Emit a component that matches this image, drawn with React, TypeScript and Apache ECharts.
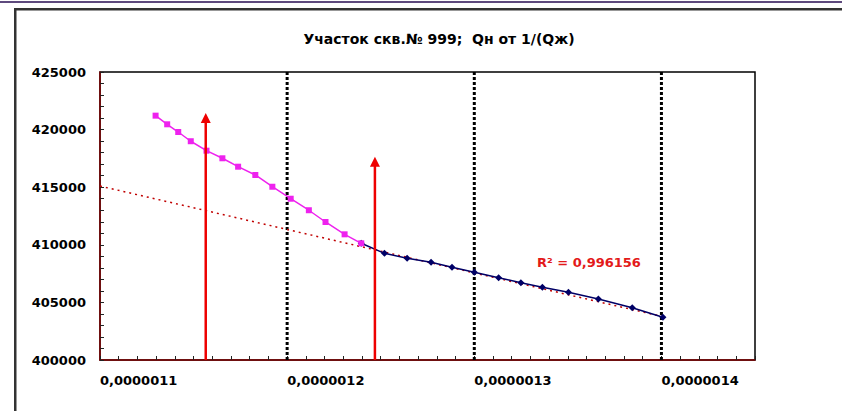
import React, { useEffect, useRef } from "react";
import * as echarts from "echarts";

const TITLE = "Участок скв.№ 999;  Qн от 1/(Qж)";
const R2_LABEL = "R² = 0,996156";

const magentaX = [1.1297e-6, 1.1359e-6, 1.1418e-6, 1.1485e-6, 1.1569e-6, 1.1654e-6, 1.1738e-6, 1.1830e-6, 1.1921e-6, 1.2019e-6, 1.2116e-6, 1.2205e-6, 1.2307e-6, 1.2396e-6];
const magentaY = [421210, 420460, 419790, 418990, 418170, 417510, 416780, 416060, 415040, 414000, 413000, 411980, 410910, 410130];

const navyX = [1.2396e-6, 1.2520e-6, 1.2641e-6, 1.2769e-6, 1.2881e-6, 1.3000e-6, 1.3130e-6, 1.3249e-6, 1.3364e-6, 1.3503e-6, 1.3663e-6, 1.3844e-6, 1.4008e-6];
const navyY = [410130, 409260, 408830, 408480, 408050, 407610, 407140, 406710, 406310, 405880, 405300, 404540, 403710];

const trendX = [1.1e-6, 1.4008e-6];
const trendY = [415100, 403760];

const arrowX = [1.1565e-6, 1.2469e-6];
const arrowTop = [421000, 417200];
const arrowBase = 400000;

const gridLinesX = [1.2e-6, 1.3e-6, 1.4e-6];

const xMin = 1.1e-6;
const xMax = 1.45e-6;
const xInterval = 1e-7;
const yMin = 400000;
const yMax = 425000;
const yInterval = 5000;

const FONT = "'DejaVu Sans', 'Liberation Sans', Arial, sans-serif";

const zip = (xs: number[], ys: number[]) => xs.map((x, i) => [x, ys[i]]);

export default function App() {
  const ref = useRef<HTMLDivElement>(null);
  useEffect(() => {
    if (!ref.current) return;
    const chart = echarts.init(ref.current, null, { renderer: "svg" });
    const arrowSeries = arrowX.map((x, i) => ({
      type: "line",
      silent: true,
      z: 4,
      lineStyle: { color: "#ee0000", width: 2.5 },
      itemStyle: { color: "#ee0000" },
      data: [
        { value: [x, arrowBase], symbol: "none" },
        { value: [x, arrowTop[i]], symbol: "triangle", symbolSize: [10, 10] },
      ],
    }));
    const gridSeries = gridLinesX.map((x) => ({
      type: "line",
      silent: true,
      z: 0,
      symbol: "none",
      lineStyle: { color: "#000000", width: 3, type: [3, 2] },
      data: [
        [x, yMin],
        [x, yMax],
      ],
    }));
    chart.setOption({
      animation: false,
      backgroundColor: "#ffffff",
      title: {
        text: TITLE,
        left: 434,
        top: 27,
        textAlign: "center",
        textStyle: { fontFamily: FONT, fontWeight: "bold", fontSize: 14, color: "#000" },
      },
      grid: {
        left: 100,
        top: 72,
        width: 655,
        height: 288,
        show: true,
        backgroundColor: "#ffffff",
        borderColor: "#000000",
        borderWidth: 1.5,
      },
      xAxis: {
        type: "value",
        min: xMin,
        max: xMax,
        interval: xInterval,
        axisLine: { lineStyle: { color: "#800000", width: 1.5 } },
        axisTick: { inside: true, length: 4, lineStyle: { color: "#222", width: 1 } },
        minorTick: { show: true, splitNumber: 10, length: 4, lineStyle: { color: "#222", width: 1 } },
        splitLine: { show: false },
        axisLabel: {
          align: "left",
          margin: 14,
          fontFamily: FONT,
          fontWeight: "bold",
          fontSize: 13,
          color: "#000",
          formatter: (v: number) => {
            const k = v / xInterval;
            if (Math.abs(k - Math.round(k)) > 1e-6 || v > 1.4e-6 + 1e-12) return "";
            return v.toFixed(7).replace(".", ",");
          },
        },
      },
      yAxis: {
        type: "value",
        min: yMin,
        max: yMax,
        interval: yInterval,
        axisLine: { show: true, lineStyle: { color: "#800000", width: 1.5 } },
        axisTick: { show: true, inside: true, length: 4, lineStyle: { color: "#222", width: 1 } },
        minorTick: { show: true, splitNumber: 5, length: 4, lineStyle: { color: "#222", width: 1 } },
        splitLine: { show: false },
        axisLabel: {
          margin: 14,
          fontFamily: FONT,
          fontWeight: "bold",
          fontSize: 13,
          color: "#000",
          formatter: (v: number) => String(v),
        },
      },
      series: [
        ...gridSeries,
        {
          type: "line",
          silent: true,
          symbol: "none",
          z: 1,
          lineStyle: { color: "#c00000", width: 1.5, type: [2, 4] },
          data: zip(trendX, trendY),
        },
        {
          type: "line",
          silent: true,
          z: 2,
          symbol: "diamond",
          symbolSize: 7,
          lineStyle: { color: "#000066", width: 1.5 },
          itemStyle: { color: "#000066" },
          data: zip(navyX, navyY),
        },
        {
          type: "line",
          silent: true,
          z: 3,
          symbol: "rect",
          symbolSize: 6,
          lineStyle: { color: "#ee22ee", width: 1.5 },
          itemStyle: { color: "#ee22ee" },
          data: zip(magentaX, magentaY),
        },
        ...arrowSeries,
      ],
      graphic: [
        {
          type: "rect",
          silent: true,
          shape: { x: 0, y: 1, width: 842, height: 2 },
          style: { fill: "#5e4a7e" },
        },
        {
          type: "rect",
          silent: true,
          shape: { x: 14, y: 8, width: 2.5, height: 403 },
          style: { fill: "#333333" },
        },
        {
          type: "rect",
          silent: true,
          shape: { x: 14, y: 8, width: 828, height: 2.5 },
          style: { fill: "#333333" },
        },
        {
          type: "text",
          silent: true,
          left: 537,
          top: 256,
          style: {
            text: R2_LABEL,
            fill: "#e31a1a",
            font: `bold 13px ${FONT}`,
          },
        },
      ],
    });
    return () => chart.dispose();
  }, []);
  return (
    <div
      ref={ref}
      style={{ position: "fixed", left: 0, top: 0, width: 842, height: 411 }}
    />
  );
}
